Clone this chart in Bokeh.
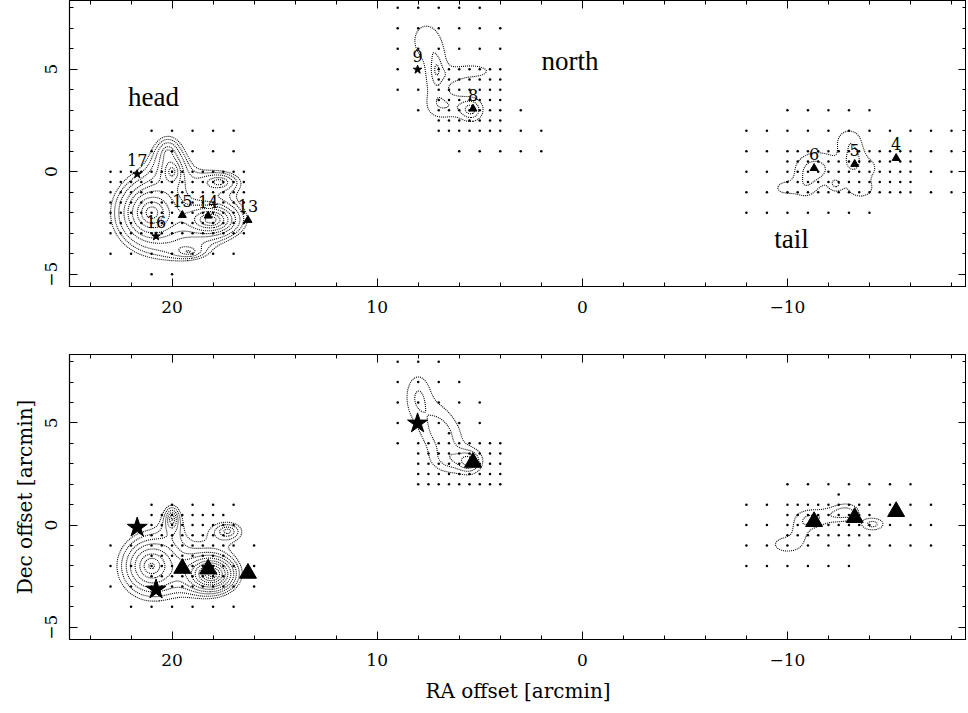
import numpy as np
from bokeh.plotting import figure
from bokeh.layouts import column
from bokeh.models import Range1d, LinearAxis, FixedTicker, CustomJSTickFormatter
from bokeh.core.properties import value
from bokeh.embed import file_html
from bokeh.resources import INLINE

# ---------------- data ----------------
X_RANGE = (25.0, -18.73)
Y_RANGE = (-5.6, 8.35)
X_MAJOR = [20, 10, 0, -10]
X_MINOR = list(range(24, -19, -2))
Y_MAJOR = [-5, 0, 5]
Y_MINOR = list(range(-5, 9))
TICK_OVERRIDES = {-5: "\u22125", -10: "\u221210"}

# sources
SRC_NAME = ["4", "5", "6", "8", "9", "13", "14", "15", "16", "17"]
SRC_X = [-15.3, -13.28, -11.3, 5.33, 8.03, 16.3, 18.24, 19.5, 20.78, 21.7]
SRC_Y = [0.66, 0.37, 0.17, 3.07, 4.98, -2.36, -2.15, -2.12, -3.15, -0.12]
SRC_KIND = ["tri", "tri", "tri", "tri", "star", "tri", "tri", "tri", "star", "star"]

REGION_NAME = ["head", "north", "tail"]
REGION_X = [20.9, 0.6, -10.2]
REGION_Y = [3.66, 5.4, -3.27]

# observed grid blocks: (x_from, x_to, y_from, y_to, step)
TOP_GRID = [
    (17, 21, 1, 2, 1.0), (17, 23, -4, 0, 1.0), (20, 21, -5, -5, 1.0),
    (16.5, 23, -3, 0, 0.5),
    (4, 9, 4, 7, 1.0), (5, 9, 8, 8, 1.0), (4, 7, 2, 5, 0.5),
    (2, 3, 2, 2, 1.0), (3, 3, 3, 3, 1.0), (8, 8, 3, 3, 1.0), (2, 6, 1, 1, 1.0),
    (-18, -8, -1, 2, 1.0), (-14, -10, 3, 3, 1.0), (-14, -8, -2, -2, 1.0),
    (-16, -10, -1, 1, 0.5),
]
BOT_GRID = [
    (16, 23, -3, -1, 1.0), (17, 22, -4, -4, 1.0), (17, 21, 0, 1, 1.0),
    (17.5, 21, -3, 0.5, 0.5),
    (7, 9, 8, 8, 1.0), (6, 9, 7, 7, 1.0), (5, 9, 5, 6, 1.0), (6.5, 6.5, 4.5, 4.5, 1.0),
    (9, 9, 4, 4, 1.0), (4, 8, 2, 4, 0.5),
    (-16, -10, 2, 2, 1.0), (-12.5, -12.5, 1.5, 1.5, 1.0), (-17, -8, 1, 1, 1.0),
    (-17, -8, 0, 0, 1.0), (-17, -8, -1, -1, 1.0), (-13, -8, -2, -2, 1.0),
    (-14, -10, -0.5, 1, 0.5),
]

# emission clumps read from the maps: centre x, centre y, peak, scale x, scale y
# head maps: exponential clumps; north and tail maps: gaussian clumps
TOP_HEAD_CX = [21.0, 18.1, 20.0, 17.7, 20.2, 19.2]
TOP_HEAD_CY = [-2.0, -2.35, 0.0, -0.5, 0.9, -3.9]
TOP_HEAD_A = [1.0, 1.0, 0.45, 0.36, 0.3, 0.25]
TOP_HEAD_SX = [1.0, 0.85, 0.35, 0.9, 0.6, 0.8]
TOP_HEAD_SY = [1.0, 0.5, 0.45, 0.45, 0.8, 0.35]
TOP_HEAD_BOX = (15.8, 23.8, -5.3, 2.4)
TOP_HEAD_LEV = [0.14, 0.17, 0.21, 0.27, 0.33, 0.41, 0.52, 0.64, 0.8]

TOP_NORTH_CX = [7.7, 7.1, 6.4, 5.4, 5.4, 7.1, 6.3]
TOP_NORTH_CY = [6.4, 4.8, 3.2, 3.0, 4.9, 5.0, 4.6]
TOP_NORTH_A = [0.3, 0.42, 0.35, 0.55, 0.3, 0.2, 0.15]
TOP_NORTH_SX = [0.5, 0.4, 0.8, 0.35, 0.8, 0.12, 0.4]
TOP_NORTH_SY = [0.7, 1.1, 0.45, 0.35, 0.28, 0.3, 0.3]
TOP_NORTH_BOX = (3.5, 9.5, 1.5, 8.2)
TOP_NORTH_LEV = [0.2, 0.4, 0.6]

TOP_TAIL_CX = [-12.1, -11.3, -10.9, -13.2, -12.35, -13.0, -13.6, -9.9, -14.1]
TOP_TAIL_CY = [0.3, 0.1, -0.7, 0.6, -0.6, 1.6, -0.9, -0.8, 0.2]
TOP_TAIL_A = [0.18, 0.4, 0.25, 0.4, 0.35, 0.25, 0.22, 0.24, 0.15]
TOP_TAIL_SX = [1.4, 0.55, 0.4, 0.35, 0.22, 0.45, 0.6, 0.5, 0.4]
TOP_TAIL_SY = [0.9, 0.45, 0.45, 0.55, 0.22, 0.4, 0.4, 0.3, 0.5]
TOP_TAIL_BOX = (-16.0, -8.3, -2.2, 2.8)
TOP_TAIL_LEV = [0.2, 0.42]

BOT_HEAD_CX = [21.0, 18.1, 20.0, 17.3]
BOT_HEAD_CY = [-2.0, -2.4, 0.3, -0.3]
BOT_HEAD_A = [0.75, 1.6, 0.4, 0.3]
BOT_HEAD_SX = [1.0, 0.6, 0.3, 0.8]
BOT_HEAD_SY = [1.0, 0.45, 0.5, 0.5]
BOT_HEAD_BOX = (16.0, 23.2, -4.4, 1.0)
BOT_HEAD_LEV = [0.14, 0.175, 0.22, 0.27, 0.34, 0.43, 0.53, 0.67, 0.83, 1.04, 1.3]

BOT_NORTH_CX = [8.0, 7.2, 6.2, 5.5, 6.6]
BOT_NORTH_CY = [6.3, 5.0, 3.2, 3.1, 4.2]
BOT_NORTH_A = [0.3, 0.25, 0.35, 0.45, 0.25]
BOT_NORTH_SX = [0.45, 0.6, 0.75, 0.35, 0.6]
BOT_NORTH_SY = [0.8, 0.8, 0.45, 0.35, 0.7]
BOT_NORTH_BOX = (3.8, 9.3, 2.0, 8.2)
BOT_NORTH_LEV = [0.15, 0.3, 0.45, 0.6]

BOT_TAIL_CX = [-11.1, -12.9, -12.2, -10.0, -10.6, -14.15, -13.2]
BOT_TAIL_CY = [0.3, 0.65, 0.5, -0.95, -0.35, 0.05, 0.4]
BOT_TAIL_A = [0.4, 0.4, 0.25, 0.35, 0.25, 0.45, 0.2]
BOT_TAIL_SX = [0.55, 0.45, 0.5, 0.55, 0.35, 0.4, 0.15]
BOT_TAIL_SY = [0.35, 0.3, 0.3, 0.3, 0.35, 0.22, 0.15]
BOT_TAIL_BOX = (-15.0, -8.6, -1.9, 1.9)
BOT_TAIL_LEV = [0.2, 0.38]

SERIF = "DejaVu Serif"


def grid_points(blocks):
    pts = set()
    for x0, x1, y0, y1, st in blocks:
        xa = np.arange(min(x0, x1), max(x0, x1) + 1e-6, st)
        ya = np.arange(min(y0, y1), max(y0, y1) + 1e-6, st)
        for xv in xa:
            for yv in ya:
                pts.add((round(float(xv), 2), round(float(yv), 2)))
    pts = sorted(pts)
    return [p[0] for p in pts], [p[1] for p in pts]


def clump_map(cx, cy, amp, sx, sy, box, expo, res=0.03):
    xs = np.arange(box[0], box[1] + 1e-9, res)
    ys = np.arange(box[2], box[3] + 1e-9, res)
    X, Y = np.meshgrid(xs, ys)
    Z = np.zeros_like(X)
    for a, b, c, d, e in zip(cx, cy, amp, sx, sy):
        r2 = (X - a) ** 2 / (d * d) + (Y - b) ** 2 / (e * e)
        if expo:
            Z += c * np.exp(-np.sqrt(r2))
        else:
            Z += c * np.exp(-0.5 * r2)
    return xs, ys, Z


def style_axis(ax, labels=True):
    ax.axis_line_color = "black"
    ax.axis_line_width = 1.2
    ax.major_tick_line_color = "black"
    ax.minor_tick_line_color = "black"
    ax.major_tick_in = 8
    ax.major_tick_out = 0
    ax.minor_tick_in = 4
    ax.minor_tick_out = 0
    if labels:
        ax.major_label_text_font = SERIF
        ax.major_label_text_font_size = "17px"
        ax.major_label_text_color = "black"
        ax.major_label_overrides = TICK_OVERRIDES
    else:
        ax.formatter = CustomJSTickFormatter(code="return ''")
        ax.major_label_text_font_size = "1px"
        ax.major_label_standoff = 0


def make_panel(bottom, grid_blocks, maps, big_markers, show_names):
    p = figure(frame_width=897, frame_height=285 if bottom else 286,
               x_range=Range1d(*X_RANGE), y_range=Range1d(*Y_RANGE),
               x_axis_location=None, y_axis_location=None,
               toolbar_location=None, output_backend="svg",
               min_border_left=69, min_border_right=0, min_border_top=0,
               min_border_bottom=68,
               background_fill_color="white", border_fill_color="white")
    p.grid.visible = False
    p.outline_line_color = "black"

    xt = FixedTicker(ticks=X_MAJOR, minor_ticks=X_MINOR)
    yt = FixedTicker(ticks=Y_MAJOR, minor_ticks=Y_MINOR)

    xb = LinearAxis(ticker=xt)
    style_axis(xb)
    xb.major_label_standoff = 14
    if bottom:
        xb.axis_label = "RA offset [arcmin]"
        xb.axis_label_text_font = SERIF
        xb.axis_label_text_font_size = "20px"
        xb.axis_label_text_font_style = "normal"
        xb.axis_label_text_color = "black"
        xb.axis_label_standoff = 10
    p.add_layout(xb, "below")

    xa = LinearAxis(ticker=xt)
    style_axis(xa, labels=False)
    p.add_layout(xa, "above")

    yl = LinearAxis(ticker=yt)
    style_axis(yl)
    yl.major_label_orientation = "vertical"
    yl.major_label_standoff = 12
    if bottom:
        yl.axis_label = "Dec offset [arcmin]"
        yl.axis_label_text_font = SERIF
        yl.axis_label_text_font_size = "20px"
        yl.axis_label_text_font_style = "normal"
        yl.axis_label_text_color = "black"
        yl.axis_label_standoff = 6
    p.add_layout(yl, "left")

    yr = LinearAxis(ticker=yt)
    style_axis(yr, labels=False)
    p.add_layout(yr, "right")

    gx, gy = grid_points(grid_blocks)
    p.scatter(gx, gy, marker="circle", size=2.5, fill_color="black", line_color=None)

    for m in maps:
        xs, ys, Z = clump_map(*m[:7])
        p.contour(xs, ys, Z, m[7], line_color="black", line_width=1.1,
                  line_dash=value("1 1"), fill_color=None)

    tx = [x for x, k in zip(SRC_X, SRC_KIND) if k == "tri"]
    ty = [y for y, k in zip(SRC_Y, SRC_KIND) if k == "tri"]
    sx = [x for x, k in zip(SRC_X, SRC_KIND) if k == "star"]
    sy = [y for y, k in zip(SRC_Y, SRC_KIND) if k == "star"]
    p.scatter(tx, ty, marker="triangle", size=17 if big_markers else 8,
              fill_color="black", line_color="black")
    p.scatter(sx, sy, marker="star", size=21 if big_markers else 9,
              fill_color="black", line_color="black")

    if show_names:
        p.text(SRC_X, SRC_Y, text=SRC_NAME, text_font=value(SERIF), text_font_size="16px",
               text_align="center", text_baseline="middle", y_offset=-14, text_color="black")
        p.text(REGION_X, REGION_Y, text=REGION_NAME, text_font=value("Liberation Serif"),
               text_font_size="27px", text_align="center", text_baseline="middle",
               text_color="black")
    return p


top_maps = [
    (TOP_HEAD_CX, TOP_HEAD_CY, TOP_HEAD_A, TOP_HEAD_SX, TOP_HEAD_SY, TOP_HEAD_BOX, True, TOP_HEAD_LEV),
    (TOP_NORTH_CX, TOP_NORTH_CY, TOP_NORTH_A, TOP_NORTH_SX, TOP_NORTH_SY, TOP_NORTH_BOX, False, TOP_NORTH_LEV),
    (TOP_TAIL_CX, TOP_TAIL_CY, TOP_TAIL_A, TOP_TAIL_SX, TOP_TAIL_SY, TOP_TAIL_BOX, False, TOP_TAIL_LEV),
]
bot_maps = [
    (BOT_HEAD_CX, BOT_HEAD_CY, BOT_HEAD_A, BOT_HEAD_SX, BOT_HEAD_SY, BOT_HEAD_BOX, True, BOT_HEAD_LEV),
    (BOT_NORTH_CX, BOT_NORTH_CY, BOT_NORTH_A, BOT_NORTH_SX, BOT_NORTH_SY, BOT_NORTH_BOX, False, BOT_NORTH_LEV),
    (BOT_TAIL_CX, BOT_TAIL_CY, BOT_TAIL_A, BOT_TAIL_SX, BOT_TAIL_SY, BOT_TAIL_BOX, False, BOT_TAIL_LEV),
]

p1 = make_panel(False, TOP_GRID, top_maps, big_markers=False, show_names=True)
p2 = make_panel(True, BOT_GRID, bot_maps, big_markers=True, show_names=False)

layout = column(p1, p2, spacing=0)
open("out.html", "w").write(file_html(layout, INLINE))
